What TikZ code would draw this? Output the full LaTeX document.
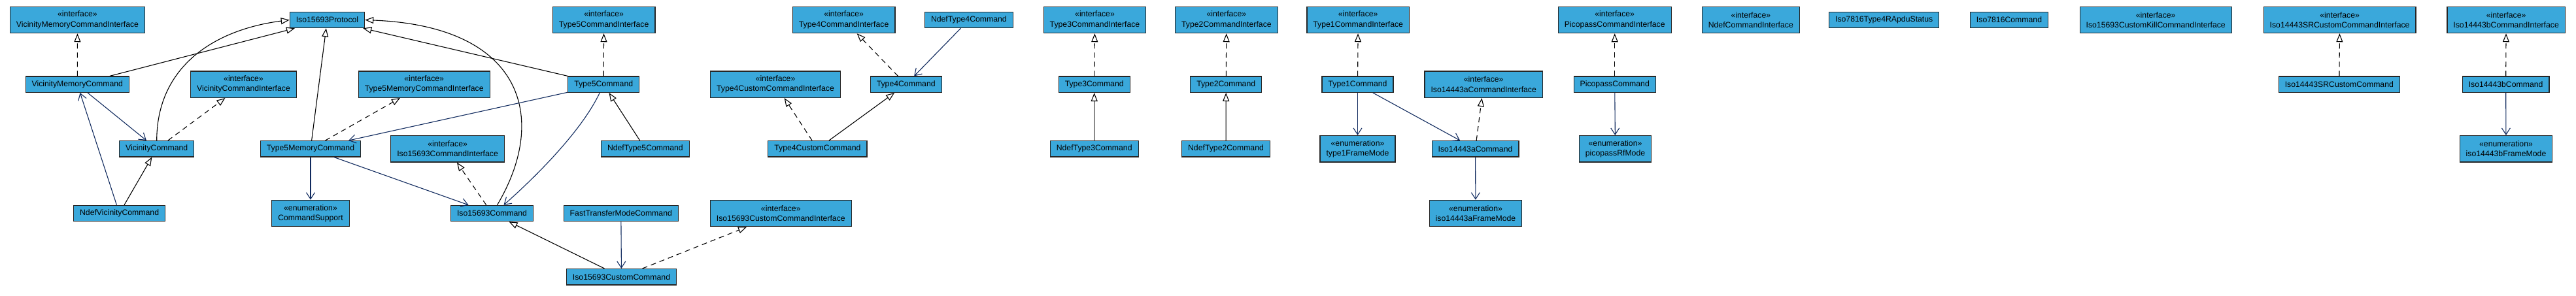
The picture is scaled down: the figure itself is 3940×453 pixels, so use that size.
\documentclass[tikz,border=0pt]{standalone}
\usepackage{fontspec}
\setmainfont{Liberation Sans}
\usetikzlibrary{arrows.meta,shapes}
\definecolor{clsfill}{RGB}{58,168,219}
\definecolor{assocblue}{RGB}{16,42,94}

\begin{document}
\begin{tikzpicture}[
  cls/.style={draw=black!85,line width=1.2bp,fill=clsfill,minimum height=24.4bp,inner xsep=9.5bp,inner ysep=2bp,font=\fontsize{12.3}{15.3}\selectfont},
  itf/.style={cls,minimum height=40.5bp,align=center},
  gen/.style={line width=1.1bp,-{Triangle[length=13bp,width=10bp,fill=white]}},
  real/.style={gen,dash pattern=on 8bp off 6bp},
  assoc/.style={line width=1.1bp,assocblue,-{Straight Barb[length=10bp,width=13bp]}}]

\useasboundingbox (0bp,0bp) rectangle (3940bp,-453bp);

\node (vmci) at (118.5bp,-30.4bp)[itf] {«interface»\\VicinityMemoryCommandInterface};
\node (proto) at (500.5bp,-30.5bp)[cls] {Iso15693Protocol};
\node (t5ci) at (923.6bp,-30.4bp)[itf] {«interface»\\Type5CommandInterface};
\node (t4ci) at (1290.6bp,-30.4bp)[itf] {«interface»\\Type4CommandInterface};
\node (nt4c) at (1481.9bp,-30.5bp)[cls] {NdefType4Command};
\node (t3ci) at (1674.5bp,-30.4bp)[itf] {«interface»\\Type3CommandInterface};
\node (t2ci) at (1875.9bp,-30.4bp)[itf] {«interface»\\Type2CommandInterface};
\node (t1ci) at (2077.2bp,-30.4bp)[itf] {«interface»\\Type1CommandInterface};
\node (pci) at (2469.7bp,-30.4bp)[itf] {«interface»\\PicopassCommandInterface};
\node (nci) at (2677.8bp,-30.4bp)[itf] {«interface»\\NdefCommandInterface};
\node (rapdu) at (2881.7bp,-30.5bp)[cls] {Iso7816Type4RApduStatus};
\node (i7816) at (3073bp,-30.5bp)[cls] {Iso7816Command};
\node (ickci) at (3297.2bp,-30.4bp)[itf] {«interface»\\Iso15693CustomKillCommandInterface};
\node (isrcci) at (3578.6bp,-30.4bp)[itf] {«interface»\\Iso14443SRCustomCommandInterface};
\node (ibci) at (3833.1bp,-30.4bp)[itf] {«interface»\\Iso14443bCommandInterface};

\node (vmc) at (118.3bp,-129.2bp)[cls] {VicinityMemoryCommand};
\node (vci) at (372.5bp,-129.2bp)[itf] {«interface»\\VicinityCommandInterface};
\node (t5mci) at (648.7bp,-129.2bp)[itf] {«interface»\\Type5MemoryCommandInterface};
\node (t5c) at (923.2bp,-129.2bp)[cls] {Type5Command};
\node (t4cci) at (1186bp,-129.2bp)[itf] {«interface»\\Type4CustomCommandInterface};
\node (t4c) at (1385.7bp,-129.2bp)[cls] {Type4Command};
\node (t3c) at (1673.7bp,-129.2bp)[cls] {Type3Command};
\node (t2c) at (1875.2bp,-129.2bp)[cls] {Type2Command};
\node (t1c) at (2076.5bp,-129.2bp)[cls] {Type1Command};
\node (i14aci) at (2269.2bp,-129.2bp)[itf] {«interface»\\Iso14443aCommandInterface};
\node (pc) at (2469.7bp,-129.2bp)[cls] {PicopassCommand};
\node (isrcc) at (3577.8bp,-129.2bp)[cls] {Iso14443SRCustomCommand};
\node (ibc) at (3832.6bp,-129.2bp)[cls] {Iso14443bCommand};

\node (vc) at (239.7bp,-227.8bp)[cls] {VicinityCommand};
\node (t5mc) at (475bp,-227.8bp)[cls] {Type5MemoryCommand};
\node (ici) at (684.6bp,-227.8bp)[itf] {«interface»\\Iso15693CommandInterface};
\node (nt5c) at (986.9bp,-227.8bp)[cls] {NdefType5Command};
\node (t4cc) at (1250.4bp,-227.8bp)[cls] {Type4CustomCommand};
\node (nt3c) at (1673.7bp,-227.8bp)[cls] {NdefType3Command};
\node (nt2c) at (1875bp,-227.8bp)[cls] {NdefType2Command};
\node (t1fm) at (2076.5bp,-227.8bp)[itf] {«enumeration»\\type1FrameMode};
\node (i14ac) at (2256.5bp,-227.8bp)[cls] {Iso14443aCommand};
\node (prm) at (2470.5bp,-227.8bp)[itf] {«enumeration»\\picopassRfMode};
\node (ibfm) at (3833bp,-227.8bp)[itf] {«enumeration»\\iso14443bFrameMode};

\node (nvc) at (182.6bp,-326.5bp)[cls] {NdefVicinityCommand};
\node (cs) at (475bp,-326.5bp)[itf] {«enumeration»\\CommandSupport};
\node (icmd) at (752.5bp,-326.5bp)[cls] {Iso15693Command};
\node (ftmc) at (949.8bp,-326.5bp)[cls] {FastTransferModeCommand};
\node (icci) at (1194.3bp,-326.5bp)[itf] {«interface»\\Iso15693CustomCommandInterface};
\node (i14afm) at (2257bp,-326.5bp)[itf] {«enumeration»\\iso14443aFrameMode};

\node (icc) at (950.5bp,-423.7bp)[cls] {Iso15693CustomCommand};

\draw [gen] (vmc) -- (proto);
\draw [gen] (nvc) -- (vc);
\draw [gen] (t5mc) -- (proto);
\draw [gen] (t5c) -- (proto);
\draw [gen] (nt5c) -- (t5c);
\draw [gen] (icc) -- (icmd);
\draw [gen] (t4cc) -- (t4c);
\draw [gen] (nt3c) -- (t3c);
\draw [gen] (nt2c) -- (t2c);
\draw [gen] (vc.north) .. controls (240bp,-100bp) and (330bp,-45bp) .. (proto.west);
\draw [gen] ([xshift=8bp]icmd.north) .. controls (840bp,-180bp) and (800bp,-40bp) .. (proto.east);

\draw [real] (vmc) -- (vmci);
\draw [real] (vc) -- (vci);
\draw [real] (t5mc) -- (t5mci);
\draw [real] (t5c) -- (t5ci);
\draw [real] (icmd) -- (ici);
\draw [real] (icc) -- (icci);
\draw [real] (t4cc) -- (t4cci);
\draw [real] (t4c) -- (t4ci);
\draw [real] (t3c) -- (t3ci);
\draw [real] (t2c) -- (t2ci);
\draw [real] (t1c) -- (t1ci);
\draw [real] (i14ac) -- (i14aci);
\draw [real] (pc) -- (pci);
\draw [real] (isrcc) -- (isrcci);
\draw [real] (ibc) -- (ibci);

\draw [assoc] (vmc) -- (vc);
\draw [assoc] (nvc) -- (vmc);
\draw [assoc] (t5mc) -- (cs);
\draw [assoc] (t5mc) -- (icmd);
\draw [assoc] (t5c) -- (t5mc);
\draw [assoc] ([xshift=-6bp]t5c.south) .. controls (890bp,-200bp) and (820bp,-270bp) .. ([xshift=18bp]icmd.north);
\draw [assoc] (ftmc) -- (icc);
\draw [assoc] (nt4c) -- (t4c);
\draw [assoc] (t1c) -- (t1fm);
\draw [assoc] (t1c) -- (i14ac);
\draw [assoc] (i14ac) -- (i14afm);
\draw [assoc] (pc) -- (prm);
\draw [assoc] (ibc) -- (ibfm);
\end{tikzpicture}
\end{document}
